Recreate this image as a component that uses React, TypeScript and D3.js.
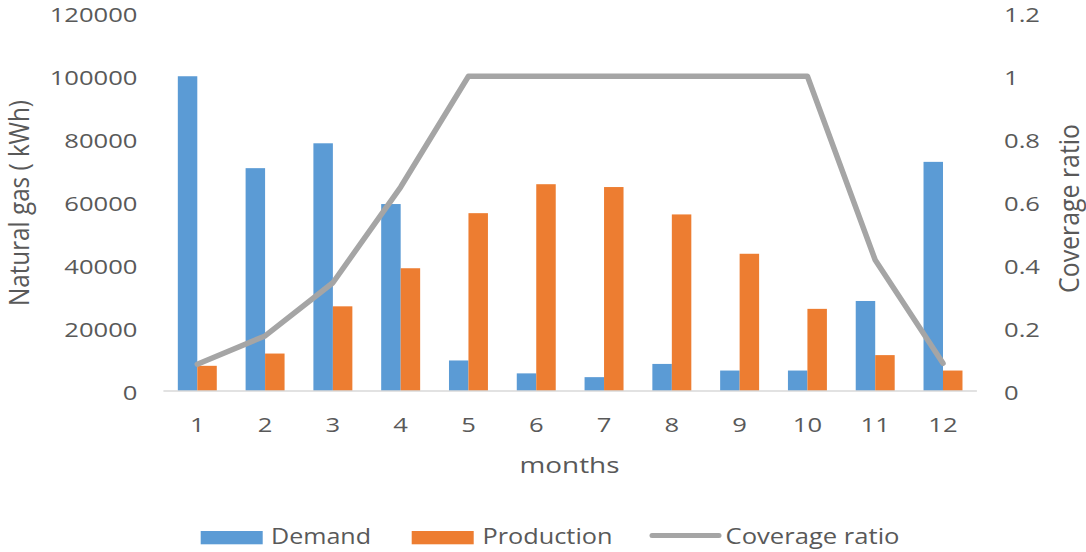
import React from "react";
import * as d3 from "d3";

// Monthly natural gas balance
const months = ["1", "2", "3", "4", "5", "6", "7", "8", "9", "10", "11", "12"];
const demand = [100000, 70800, 78700, 59400, 9700, 5600, 4400, 8600, 6500, 6500, 28600, 72800];
const production = [8000, 11900, 26900, 39000, 56500, 65700, 64800, 56100, 43600, 26100, 11400, 6500];
const coverage = [0.085, 0.175, 0.344, 0.648, 1, 1, 1, 1, 1, 1, 0.416, 0.088];

const leftTicks = [0, 20000, 40000, 60000, 80000, 100000, 120000];
const rightTicks = [0, 0.2, 0.4, 0.6, 0.8, 1, 1.2];
const seriesNames = ["Demand", "Production"];

const W = 1086;
const H = 552;
const BLUE = "#5B9BD5";
const ORANGE = "#ED7D31";
const GRAY = "#A5A5A5";
const TEXT = "#595959";
const FONT = "'Open Sans', 'Noto Sans', sans-serif";
const SX = 1.28; // horizontal glyph stretch

export default function App() {
  const x = d3.scaleBand<string>().domain(months).range([163.4, 976.9]).padding(0);
  const inner = d3
    .scaleBand<string>()
    .domain(seriesNames)
    .range([0, x.bandwidth()])
    .paddingInner(0)
    .paddingOuter(0.74);
  const y = d3.scaleLinear().domain([0, 120000]).range([391, 13.3]);
  const y2 = d3.scaleLinear().domain([0, 1.2]).range([391, 13.3]);

  const line = d3
    .line<number>()
    .x((_, i) => (x(months[i]) as number) + x.bandwidth() / 2)
    .y((d) => y2(d));

  const fmtRight = (v: number) => String(+v.toFixed(1));

  return (
    <svg
      width={W}
      height={H}
      style={{ position: "absolute", left: 0, top: 0, background: "#fff" }}
      fontFamily={FONT}
    >
      <rect x={0} y={0} width={W} height={H} fill="#fff" />

      {/* bars */}
      {months.map((m, i) => (
        <g key={m} transform={`translate(${x(m)},0)`}>
          <rect
            x={inner("Demand")}
            y={y(demand[i])}
            width={inner.bandwidth()}
            height={y(0) - y(demand[i])}
            fill={BLUE}
          />
          <rect
            x={inner("Production")}
            y={y(production[i])}
            width={inner.bandwidth()}
            height={y(0) - y(production[i])}
            fill={ORANGE}
          />
        </g>
      ))}

      {/* category axis line */}
      <line x1={x.range()[0]} x2={x.range()[1]} y1={y(0)} y2={y(0)} stroke="#D9D9D9" strokeWidth={1.5} />

      {/* coverage ratio line */}
      <path
        d={line(coverage) as string}
        fill="none"
        stroke={GRAY}
        strokeWidth={5.5}
        strokeLinejoin="round"
        strokeLinecap="round"
      />

      {/* left axis labels */}
      {leftTicks.map((t) => (
        <g key={t} transform={`translate(137.5,${y(t) + 8.7}) scale(${SX},1)`}>
          <text textAnchor="end" fontSize={20} fill={TEXT}>
            {t}
          </text>
        </g>
      ))}

      {/* right axis labels */}
      {rightTicks.map((t) => (
        <g key={t} transform={`translate(1004,${y2(t) + 8.7}) scale(${SX},1)`}>
          <text textAnchor="start" fontSize={20} fill={TEXT}>
            {fmtRight(t)}
          </text>
        </g>
      ))}

      {/* month labels */}
      {months.map((m) => (
        <g key={m} transform={`translate(${(x(m) as number) + x.bandwidth() / 2},432) scale(${SX},1)`}>
          <text textAnchor="middle" fontSize={20} fill={TEXT}>
            {m}
          </text>
        </g>
      ))}

      {/* axis titles */}
      <text x={569.5} y={473} textAnchor="middle" fontSize={22} fill={TEXT} textLength={100} lengthAdjust="spacingAndGlyphs">
        months
      </text>
      <g transform={`translate(29,203) scale(1.2,1) rotate(-90)`}>
        <text textAnchor="middle" fontSize={22} fill={TEXT} textLength={206} lengthAdjust="spacingAndGlyphs">
          Natural gas ( kWh)
        </text>
      </g>
      <g transform={`translate(1078.5,208.5) scale(1.2,1) rotate(-90)`}>
        <text textAnchor="middle" fontSize={22} fill={TEXT} textLength={169} lengthAdjust="spacingAndGlyphs">
          Coverage ratio
        </text>
      </g>

      {/* legend */}
      <rect x={200.7} y={531} width={62} height={13.3} fill={BLUE} />
      <text x={271} y={544.3} fontSize={21} fill={TEXT} textLength={100} lengthAdjust="spacingAndGlyphs">
        Demand
      </text>
      <rect x={411.7} y={531} width={62} height={13.3} fill={ORANGE} />
      <text x={482.5} y={544.3} fontSize={21} fill={TEXT} textLength={130} lengthAdjust="spacingAndGlyphs">
        Production
      </text>
      <line x1={652} x2={719} y1={535.5} y2={535.5} stroke={GRAY} strokeWidth={5} strokeLinecap="round" />
      <text x={725.5} y={544.3} fontSize={21} fill={TEXT} textLength={174} lengthAdjust="spacingAndGlyphs">
        Coverage ratio
      </text>
    </svg>
  );
}
